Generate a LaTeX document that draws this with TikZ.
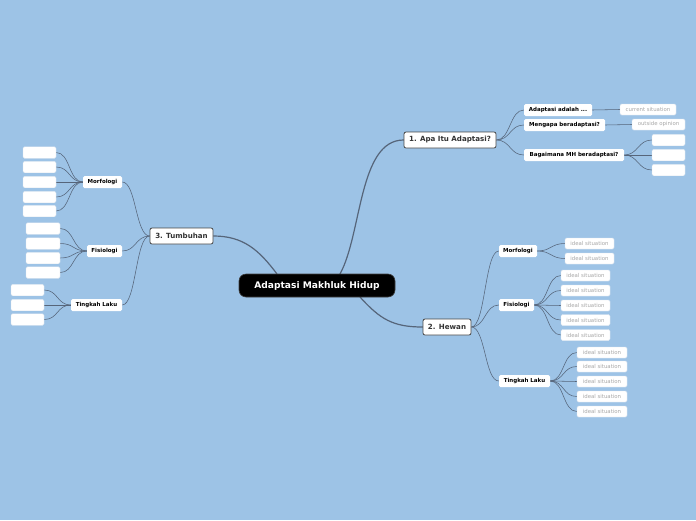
\documentclass[tikz,border=0pt]{standalone}
\usepackage{fontspec}
\setmainfont{DejaVu Sans}
\usetikzlibrary{backgrounds}
\pgfdeclarelayer{bgfill}
\pgfsetlayers{bgfill,background,main}
\definecolor{bg}{HTML}{9DC3E6}
\definecolor{lnc}{HTML}{56657A}
\definecolor{tbd}{HTML}{474747}
\definecolor{ttx}{HTML}{333333}
\definecolor{lfx}{HTML}{A8A8A8}
\definecolor{lfb}{HTML}{DDE6EF}
\tikzset{
  central/.style={fill=black, draw=gray!50!black, line width=0.6pt, rounded corners=7pt, text=white,
    font=\bfseries\fontsize{9.1}{10}\selectfont, minimum height=23pt, inner xsep=0pt, inner ysep=0pt},
  topic/.style={fill=white, draw=tbd, line width=0.8pt, rounded corners=2pt, text=ttx,
    font=\bfseries\fontsize{7.1}{8}\selectfont, minimum height=16pt, inner xsep=0pt, inner ysep=0pt},
  sub/.style={fill=white, rounded corners=1.5pt, text=black,
    font=\bfseries\fontsize{5.5}{6}\selectfont, minimum height=12pt, inner xsep=0pt, inner ysep=0pt},
  leaf/.style={fill=white, draw=lfb, line width=0.4pt, rounded corners=1.5pt, text=lfx,
    font=\fontsize{5.4}{6}\selectfont, minimum height=11pt, inner xsep=0pt, inner ysep=0pt},
  empty/.style={leaf, minimum height=11.5pt},
  conn/.style={draw=lnc, line width=0.55pt},
  mainconn/.style={draw=lnc, line width=1.2pt, line cap=round},
}
\begin{document}
\begin{tikzpicture}[x=1pt,y=-1pt]
\begin{pgfonlayer}{bgfill}
\fill[bg] (0,0) rectangle (696,520);
\end{pgfonlayer}
\useasboundingbox (0,0) rectangle (696,520);

% ---- nodes ----
\node[central, minimum width=156pt] (c) at (317,285.5) {Adaptasi Makhluk Hidup};
\node[topic, minimum width=92pt] (t1) at (450,140) {1. Apa Itu Adaptasi?};
\node[topic, minimum width=63pt] (t3) at (181.5,236) {3. Tumbuhan};
\node[topic, minimum width=48pt] (t2) at (447,327) {2. Hewan};

\coordinate (r1) at (340,274);
\coordinate (r3) at (277,274);
\coordinate (r2) at (360,297);

% Topic 1
\node[sub, minimum width=68pt] (s11) at (558,110) {Adaptasi adalah ...};
\node[sub, minimum width=81pt] (s12) at (564.5,125) {Mengapa beradaptasi?};
\node[sub, minimum width=100pt] (s13) at (574,155) {Bagaimana MH beradaptasi?};
\node[leaf, minimum width=56pt] (l111) at (648,109.5) {current situation};
\node[leaf, minimum width=53pt] (l121) at (658.5,124.5) {outside opinion};
\node[empty, minimum width=33pt] (e131) at (668.5,140) {};
\node[empty, minimum width=33pt] (e132) at (668.5,155) {};
\node[empty, minimum width=33pt] (e133) at (668.5,170) {};

% Topic 2 (Hewan)
\node[sub, minimum width=38pt] (s21) at (518,251) {Morfologi};
\node[sub, minimum width=35pt] (s22) at (516.5,305) {Fisiologi};
\node[sub, minimum width=51pt] (s23) at (524.5,381) {Tingkah Laku};
\foreach \i/\y in {1/243.5,2/258.5}
  \node[leaf, minimum width=49pt] (l21\i) at (589.5,\y) {ideal situation};
\foreach \i/\y in {1/275.5,2/290.5,3/305.5,4/320,5/335}
  \node[leaf, minimum width=49pt] (l22\i) at (585.5,\y) {ideal situation};
\foreach \i/\y in {1/352.5,2/366.5,3/381.5,4/396.5,5/411.5}
  \node[leaf, minimum width=50pt] (l23\i) at (602,\y) {ideal situation};

% Topic 3 (Tumbuhan)
\node[sub, minimum width=39pt] (s31) at (102.5,182) {Morfologi};
\node[sub, minimum width=35pt] (s32) at (104.5,251) {Fisiologi};
\node[sub, minimum width=51pt] (s33) at (96.5,305) {Tingkah Laku};
\foreach \i/\y in {1/152.5,2/167,3/182,4/197,5/211}
  \node[empty, minimum width=33pt] (e31\i) at (39.5,\y) {};
\foreach \i/\y in {1/228.5,2/243.5,3/258,4/272.5}
  \node[empty, minimum width=34pt] (e32\i) at (43,\y) {};
\foreach \i/\y in {1/290,2/305,3/319.5}
  \node[empty, minimum width=33pt] (e33\i) at (27.5,\y) {};

% ---- connectors ----
\begin{scope}[on background layer]
\draw[mainconn] (r1) .. controls +(22,-40) and +(-45,0) .. (t1.west);
\draw[mainconn] (r3) .. controls +(-18,-24) and +(30,0) .. (t3.east);
\draw[mainconn] (r2) .. controls +(20,22) and +(-30,0) .. (t2.west);

\foreach \s in {s11,s12,s13}
  \draw[conn] (t1.east) .. controls +(14,0) and +(-14,0) .. (\s.west);
\draw[conn] (s11.east) .. controls +(14,0) and +(-14,0) .. (l111.west);
\draw[conn] (s12.east) .. controls +(14,0) and +(-14,0) .. (l121.west);
\foreach \e in {e131,e132,e133}
  \draw[conn] (s13.east) .. controls +(14,0) and +(-14,0) .. (\e.west);

\foreach \s in {s21,s22,s23}
  \draw[conn] (t2.east) .. controls +(14,0) and +(-14,0) .. (\s.west);
\foreach \i in {1,2}
  \draw[conn] (s21.east) .. controls +(14,0) and +(-14,0) .. (l21\i.west);
\foreach \i in {1,...,5}
  \draw[conn] (s22.east) .. controls +(14,0) and +(-14,0) .. (l22\i.west);
\foreach \i in {1,...,5}
  \draw[conn] (s23.east) .. controls +(14,0) and +(-14,0) .. (l23\i.west);

\foreach \s in {s31,s32,s33}
  \draw[conn] (t3.west) .. controls +(-14,0) and +(14,0) .. (\s.east);
\foreach \i in {1,...,5}
  \draw[conn] (s31.west) .. controls +(-14,0) and +(14,0) .. (e31\i.east);
\foreach \i in {1,...,4}
  \draw[conn] (s32.west) .. controls +(-14,0) and +(14,0) .. (e32\i.east);
\foreach \i in {1,...,3}
  \draw[conn] (s33.west) .. controls +(-14,0) and +(14,0) .. (e33\i.east);
\end{scope}
\end{tikzpicture}
\end{document}
